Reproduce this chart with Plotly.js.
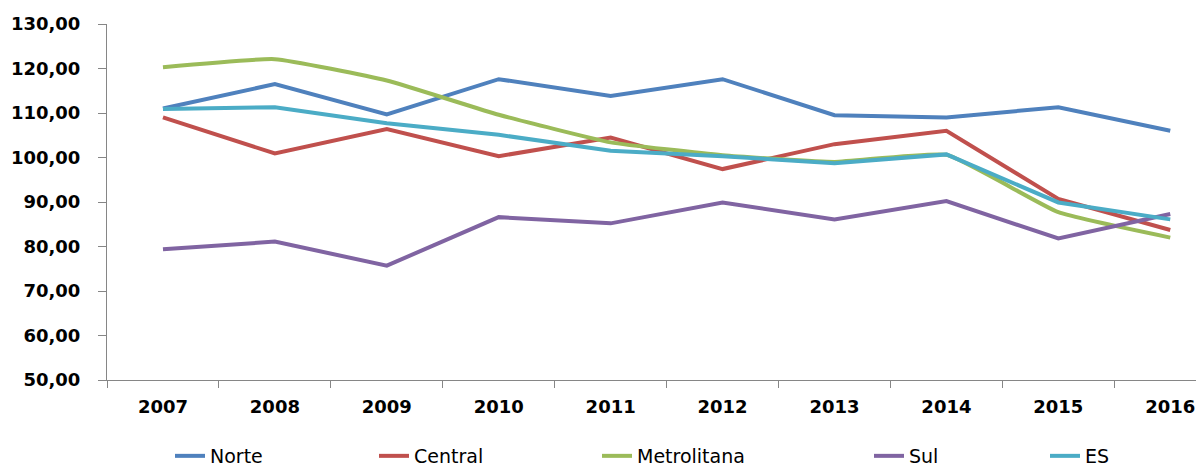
<!DOCTYPE html>
<html>
<head>
<meta charset="utf-8">
<script src="https://cdn.plot.ly/plotly-3.0.1.min.js"></script>
<style>
html,body{margin:0;padding:0;background:#fff;overflow:hidden;}
#chart{width:1196px;height:469px;}
</style>
</head>
<body>
<div id="chart"></div>
<script>
const years = ['2007','2008','2009','2010','2011','2012','2013','2014','2015','2016'];
const norte = [111.0, 116.5, 109.7, 117.6, 113.8, 117.6, 109.5, 109.0, 111.3, 106.0];
const central = [109.0, 100.9, 106.4, 100.3, 104.5, 97.4, 103.0, 106.0, 90.7, 83.7];
const metrolitana = [120.3, 122.1, 117.3, 109.6, 103.4, 100.5, 99.0, 100.6, 87.7, 82.0];
const sul = [79.4, 81.1, 75.7, 86.6, 85.2, 89.9, 86.1, 90.2, 81.8, 87.3];
const es = [110.9, 111.3, 107.7, 105.1, 101.5, 100.3, 98.7, 100.7, 89.9, 86.1];
const seriesNames = ['Norte', 'Central', 'Metrolitana', 'Sul', 'ES'];
const yTicks = [50, 60, 70, 80, 90, 100, 110, 120, 130];

const colors = ['#4F81BD', '#C0504D', '#9BBB59', '#8064A2', '#4BACC6'];
const values = [norte, central, metrolitana, sul, es];
const legendIds = ['legend', 'legend2', 'legend3', 'legend4', 'legend5'];
const legendTextX = [210, 414, 637, 909, 1085];
const W = 1196, H = 469;

const traces = values.map((v, i) => ({
  type: 'scatter',
  mode: 'lines',
  x: years,
  y: v,
  name: seriesNames[i],
  legend: legendIds[i],
  line: {color: colors[i], width: 4, shape: (i === 2 ? 'spline' : 'linear'), smoothing: 0.4},
  hoverinfo: 'x+y+name'
}));

const layout = {
  width: W,
  height: H,
  margin: {l: 107, r: 0, t: 24, b: 89},
  paper_bgcolor: '#ffffff',
  plot_bgcolor: '#ffffff',
  separators: ',.',
  font: {family: 'DejaVu Sans, sans-serif', color: '#000000'},
  xaxis: {
    type: 'category',
    range: [-0.5, 9.23],
    showgrid: false,
    zeroline: false,
    showline: true,
    linecolor: '#868686',
    linewidth: 1,
    ticks: 'outside',
    tickson: 'boundaries',
    ticklen: 7,
    tickcolor: '#868686',
    ticklabelstandoff: 10,
    tickfont: {family: 'DejaVu Sans, sans-serif', size: 18, weight: 'bold', color: '#000'}
  },
  yaxis: {
    range: [50, 130],
    tickvals: yTicks,
    tickformat: '.2f',
    showgrid: false,
    zeroline: false,
    showline: true,
    linecolor: '#868686',
    linewidth: 1,
    ticks: 'outside',
    ticklen: 8,
    tickcolor: '#868686',
    ticklabelstandoff: 14,
    tickfont: {family: 'DejaVu Sans, sans-serif', size: 18, weight: 'bold', color: '#000'}
  },
  showlegend: true
};

legendIds.forEach((id, i) => {
  layout[id] = {
    orientation: 'h',
    xref: 'container',
    yref: 'container',
    x: (legendTextX[i] - 40) / W,
    xanchor: 'left',
    y: 1 - 456 / H,
    yanchor: 'middle',
    bgcolor: 'rgba(0,0,0,0)',
    borderwidth: 0,
    font: {family: 'DejaVu Sans, sans-serif', size: 19, color: '#000'}
  };
});

Plotly.newPlot('chart', traces, layout, {displayModeBar: false, staticPlot: true});
</script>
</body>
</html>
